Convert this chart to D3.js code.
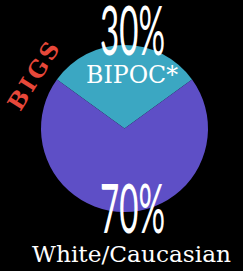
<!DOCTYPE html>
<html lang="en">
<head>
<meta charset="utf-8">
<style>
    html, body { margin: 0; padding: 0; background: #000; }
    svg { display: block; }
</style>
<title>BIGS</title>
</head>
<body>
<svg></svg>
<script src="https://cdn.jsdelivr.net/npm/d3@7"></script>
<script>
    // data
    const categories = ["BIPOC*", "White/Caucasian"];
    const values = [30, 70];
    const colors = ["#3ba7c2", "#5e4fc6"];
    const title = "BIGS";

    const width = 243, height = 271;
    const cx = 124.5, cy = 128.5, radius = 83.5;

    const svg = d3.select("svg").attr("width", width).attr("height", height);
    svg.append("rect").attr("width", width).attr("height", height).attr("fill", "#000");

    const total = d3.sum(values);
    // teal slice centred at 12 o'clock
    const start = -Math.PI * values[0] / total;
    const pie = d3.pie().sort(null).startAngle(start).endAngle(start + 2 * Math.PI);
    const arc = d3.arc().innerRadius(0).outerRadius(radius);

    const slices = pie(values);

    svg.append("g")
        .attr("transform", `translate(${cx}, ${cy})`)
        .selectAll("path")
        .data(slices)
        .join("path")
        .attr("d", arc)
        .attr("fill", (d, i) => colors[i]);

    const pct = v => Math.round(v / total * 100) + "%";

    // big percentages (condensed look)
    const big = [
        {text: pct(values[0]), x: 132.5, y: 55},
        {text: pct(values[1]), x: 132.5, y: 233}
    ];
    svg.selectAll(".big")
        .data(big)
        .join("text")
        .attr("class", "big")
        .attr("x", d => d.x)
        .attr("y", d => d.y)
        .attr("text-anchor", "middle")
        .attr("font-family", "Lato, 'Open Sans', sans-serif")
        .attr("font-weight", 400)
        .attr("font-size", 68)
        .attr("textLength", 65)
        .attr("lengthAdjust", "spacingAndGlyphs")
        .attr("fill", "#fff")
        .text(d => d.text);

    // category labels (slab serif)
    const labels = [
        {text: categories[0], x: 132, y: 83, size: 24, len: 92},
        {text: categories[1], x: 131.5, y: 262, size: 23, len: 199}
    ];
    svg.selectAll(".lab")
        .data(labels)
        .join("text")
        .attr("class", "lab")
        .attr("x", d => d.x)
        .attr("y", d => d.y)
        .attr("text-anchor", "middle")
        .attr("font-family", "'DejaVu Serif', serif")
        .attr("font-size", d => d.size)
        .attr("textLength", d => d.len)
        .attr("lengthAdjust", "spacingAndGlyphs")
        .attr("fill", "#fff")
        .text(d => d.text);

    // rotated title
    svg.append("text")
        .attr("transform", "translate(41, 79) rotate(-58)")
        .attr("text-anchor", "middle")
        .attr("font-family", "'DejaVu Serif', serif")
        .attr("font-weight", "bold")
        .attr("font-size", 23)
        .attr("letter-spacing", 3)
        .attr("fill", "#e8483a")
        .text(title);
</script>
</body>
</html>
